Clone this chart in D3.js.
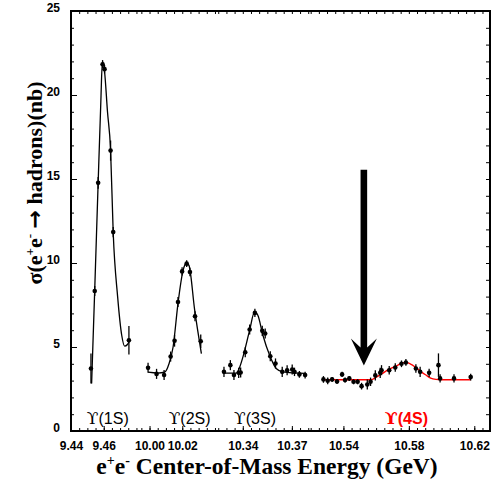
<!DOCTYPE html>
<html>
<head>
<meta charset="utf-8">
<script src="https://cdn.jsdelivr.net/npm/d3@7"></script>
<style>
  html, body { margin: 0; padding: 0; background: #fff; }
  svg { display: block; }
</style>
</head>
<body>
<svg id="chart" width="501" height="485"></svg>
<script>
// ---- Broken energy axis: four windows, one per resonance ----
const segmentDomains = [[9.44, 9.48], [9.992, 10.04], [10.323, 10.38], [10.5185, 10.6296]];
const xTickValues = [9.44, 9.46, 10.00, 10.02, 10.34, 10.37, 10.54, 10.58, 10.62];
const xTickLabels = ["9.44", "9.46", "10.00", "10.02", "10.34", "10.37", "10.54", "10.58", "10.62"];
const yTickValues = [0, 5, 10, 15, 20, 25];

// ---- Upsilon(1S) scan ----
const e1S   = [9.4522, 9.4545, 9.4566, 9.4593, 9.4605, 9.4642, 9.4658, 9.4754];
const s1S   = [3.72, 8.33, 14.77, 21.83, 21.54, 16.69, 11.84, 5.40];
const err1S = [0.9, 0.3, 0.35, 0.25, 0.25, 0.6, 0.3, 0.85];
const fitE1S = [9.4526, 9.4545, 9.4566, 9.4582, 9.4592, 9.4605, 9.4623, 9.4642, 9.4658, 9.4685, 9.4710, 9.4728, 9.4745, 9.4760];
const fitS1S = [2.83, 8.4, 14.8, 19.5, 22.0, 21.4, 19.0, 16.7, 11.8, 8.0, 5.7, 5.05, 5.15, 5.4];

// ---- Upsilon(2S) scan ----
const e2S   = [9.9991, 10.0043, 10.0089, 10.0129, 10.0153, 10.0174, 10.0199, 10.0227, 10.0247, 10.0278, 10.0313];
const s2S   = [3.76, 3.40, 3.33, 4.43, 5.37, 7.68, 9.50, 9.96, 9.46, 6.83, 5.34];
const err2S = [0.3, 0.3, 0.3, 0.3, 0.35, 0.3, 0.25, 0.2, 0.25, 0.3, 0.4];
const fitE2S = [9.9991, 10.0050, 10.0093, 10.0119, 10.0144, 10.0174, 10.0205, 10.0226, 10.0241, 10.0276, 10.0317];
const fitS2S = [3.5, 3.45, 3.5, 4.0, 5.0, 7.6, 9.56, 10.0, 9.86, 7.19, 4.61];

// ---- Upsilon(3S) scan ----
const e3S   = [10.3285, 10.3324, 10.3346, 10.3375, 10.3387, 10.3415, 10.3442, 10.3474, 10.3519, 10.3537, 10.3568, 10.3600, 10.3641, 10.3671, 10.3702, 10.3716, 10.3746, 10.3781];
const s3S   = [3.52, 3.92, 3.33, 3.46, 3.48, 4.69, 6.04, 7.03, 5.96, 5.80, 4.45, 4.02, 3.52, 3.62, 3.66, 3.52, 3.37, 3.33];
const err3S = [0.3, 0.3, 0.3, 0.3, 0.3, 0.3, 0.3, 0.25, 0.3, 0.3, 0.3, 0.3, 0.3, 0.3, 0.3, 0.25, 0.2, 0.2];
const fitE3S = [10.3285, 10.3360, 10.3381, 10.3401, 10.3442, 10.3472, 10.3492, 10.3523, 10.3564, 10.3604, 10.3645, 10.3781];
const fitS3S = [3.45, 3.45, 3.8, 4.41, 6.0, 7.09, 6.89, 5.70, 4.51, 3.72, 3.52, 3.43];

// ---- Upsilon(4S) scan ----
const e4S   = [10.5278, 10.5304, 10.5331, 10.5361, 10.5392, 10.5410, 10.5436, 10.5462, 10.5487, 10.5511, 10.5546, 10.5566, 10.5595, 10.5625, 10.5633, 10.5680, 10.5717, 10.5755, 10.5782, 10.5843, 10.5869, 10.5924, 10.5981, 10.5991, 10.6076, 10.6178];
const s4S   = [3.07, 2.99, 3.07, 2.95, 3.37, 3.03, 3.13, 2.93, 2.93, 2.67, 2.77, 2.93, 3.31, 3.46, 3.62, 3.62, 3.78, 4.00, 4.08, 3.72, 3.52, 3.46, 3.92, 3.13, 3.13, 3.21];
const err4S = [0.2, 0.2, 0.15, 0.15, 0.15, 0.15, 0.15, 0.15, 0.15, 0.2, 0.3, 0.25, 0.3, 0.3, 0.3, 0.25, 0.25, 0.2, 0.2, 0.25, 0.3, 0.25, 0.7, 0.25, 0.25, 0.2];
const fitE4S = [10.5278, 10.5568, 10.5601, 10.5639, 10.5680, 10.5721, 10.5753, 10.5782, 10.5808, 10.5843, 10.5872, 10.5904, 10.5933, 10.5965, 10.5997, 10.6178];
const fitS4S = [3.05, 3.05, 3.2, 3.43, 3.68, 3.86, 4.02, 4.08, 4.0, 3.78, 3.55, 3.33, 3.15, 3.07, 3.05, 3.05];

// ---- Labels and annotation ----
const resonanceStates = ["(1S)", "(2S)", "(3S)", "(4S)"];
const resonanceLabelE = [9.4625, 10.0245, 10.3475, 10.5785];
const arrowE = 10.5525, arrowTop = 15.55, arrowTip = 3.9;

// ---------------------------------------------------------------
const svg = d3.select("#chart");
const plot = { left: 71, right: 490, top: 11, bottom: 431 };

const y = d3.scaleLinear().domain([0, 25]).range([plot.bottom, plot.top]);

// Each window gets a width proportional to its energy span.
const spans = segmentDomains.map(d => d[1] - d[0]);
const totalSpan = d3.sum(spans);
let cursor = plot.left;
const segScales = segmentDomains.map((d, i) => {
  const w = (plot.right - plot.left) * spans[i] / totalSpan;
  const s = d3.scaleLinear().domain(d).range([cursor, cursor + w]);
  cursor += w;
  return s;
});
function x(e) {
  const s = segScales.find(sc => e >= sc.domain()[0] - 1e-9 && e <= sc.domain()[1] + 1e-9) || segScales[segScales.length - 1];
  return s(e);
}

// ---- Axes: inward ticks on all four sides ----
const axisFont = "bold 12px 'Liberation Sans', Arial, sans-serif";

function styleAxis(g) {
  g.select(".domain").remove();
  g.selectAll(".tick line").attr("stroke", "#000").attr("stroke-width", 1);
}

// Left axis with labels
const yMinor = d3.range(0, 26, 1);
svg.append("g").attr("transform", `translate(${plot.left},0)`)
  .call(d3.axisLeft(y).tickValues(yMinor).tickSize(-3).tickFormat(""))
  .call(styleAxis);
svg.append("g").attr("transform", `translate(${plot.left},0)`)
  .call(d3.axisLeft(y).tickValues(yTickValues).tickSize(-6).tickPadding(11).tickFormat(d3.format("d")))
  .call(styleAxis)
  .call(g => g.selectAll("text").style("font", axisFont).attr("fill", "#000").attr("dy", "0.05em"));
// Right axis
svg.append("g").attr("transform", `translate(${plot.right},0)`)
  .call(d3.axisRight(y).tickValues(yMinor).tickSize(-4).tickFormat(""))
  .call(styleAxis);

// Bottom and top axes per energy window
segScales.forEach((s, i) => {
  const [d0, d1] = s.domain();
  const minor = d3.range(Math.ceil(d0 / 0.005 - 1e-6) * 0.005, d1 + 1e-9, 0.005);
  const major = xTickValues.filter(v => v >= d0 - 1e-9 && v <= d1 + 1e-9);
  svg.append("g").attr("transform", `translate(0,${plot.bottom})`)
    .call(d3.axisBottom(s).tickValues(minor).tickSize(-3).tickFormat(""))
    .call(styleAxis);
  svg.append("g").attr("transform", `translate(0,${plot.bottom})`)
    .call(d3.axisBottom(s).tickValues(major).tickSize(-5).tickPadding(10)
      .tickFormat(v => xTickLabels[xTickValues.indexOf(v)]))
    .call(styleAxis)
    .call(g => g.selectAll("text").style("font", axisFont).attr("fill", "#000"));
  svg.append("g").attr("transform", `translate(0,${plot.top})`)
    .call(d3.axisTop(s).tickValues(minor).tickSize(-3).tickFormat(""))
    .call(styleAxis);
});

// Frame
svg.append("rect")
  .attr("x", plot.left).attr("y", plot.top)
  .attr("width", plot.right - plot.left).attr("height", plot.bottom - plot.top)
  .attr("fill", "none").attr("stroke", "#000").attr("stroke-width", 2);

// ---- Fits ----
const line = d3.line().x(d => x(d[0])).y(d => y(d[1])).curve(d3.curveMonotoneX);
const fits = [
  [fitE1S, fitS1S, "#000"],
  [fitE2S, fitS2S, "#000"],
  [fitE3S, fitS3S, "#000"],
  [fitE4S, fitS4S, "#ff0000"]
];
fits.forEach(([es, ss, col]) => {
  svg.append("path")
    .datum(es.map((e, i) => [e, ss[i]]))
    .attr("d", line)
    .attr("fill", "none").attr("stroke", col).attr("stroke-width", 1.3);
});

// ---- Data points with error bars ----
const scans = [[e1S, s1S, err1S], [e2S, s2S, err2S], [e3S, s3S, err3S], [e4S, s4S, err4S]];
scans.forEach(([es, ss, errs]) => {
  const pts = es.map((e, i) => ({ e, s: ss[i], err: errs[i] }));
  const g = svg.append("g");
  g.selectAll("line.err").data(pts).join("line")
    .attr("x1", d => x(d.e)).attr("x2", d => x(d.e))
    .attr("y1", d => y(d.s - d.err)).attr("y2", d => y(d.s + d.err))
    .attr("stroke", "#000").attr("stroke-width", 1.3);
  g.selectAll("circle").data(pts).join("circle")
    .attr("cx", d => x(d.e)).attr("cy", d => y(d.s))
    .attr("r", 2.3).attr("fill", "#000");
});

// ---- Resonance names: hooked upsilon symbol, state in sans ----
resonanceStates.forEach((state, i) => {
  const red = i === 3;
  const t = svg.append("text")
    .attr("x", x(resonanceLabelE[i])).attr("y", 424)
    .attr("text-anchor", "middle")
    .attr("fill", red ? "#ff0000" : "#000");
  t.append("tspan")
    .style("font", `${red ? "bold " : ""}17px 'DejaVu Serif', serif`)
    .text("\u03D2");
  t.append("tspan")
    .style("font", `${red ? "bold " : ""}16px 'Liberation Sans', Arial, sans-serif`)
    .text(state);
});

// ---- Arrow pointing to the 4S continuum below threshold ----
const ax = x(arrowE), yTop = y(arrowTop), yTip = y(arrowTip);
const headLen = 27, headHalf = 13, shaftHalf = 3.3, notch = 9;
svg.append("path")
  .attr("d", `M${ax - shaftHalf},${yTop} L${ax + shaftHalf},${yTop} L${ax + shaftHalf},${yTip - headLen + notch}
             L${ax + headHalf},${yTip - headLen} L${ax},${yTip} L${ax - headHalf},${yTip - headLen}
             L${ax - shaftHalf},${yTip - headLen + notch} Z`)
  .attr("fill", "#000");

// ---- Axis titles ----
const titleFont = "bold 23.5px 'Liberation Serif', 'Times New Roman', serif";
const xt = svg.append("text")
  .attr("x", 267).attr("y", 474)
  .attr("text-anchor", "middle").style("font", titleFont).attr("fill", "#000");
xt.append("tspan").text("e");
xt.append("tspan").attr("dy", -9).style("font-size", "14px").text("+");
xt.append("tspan").attr("dy", 9).text("e");
xt.append("tspan").attr("dy", -9).style("font-size", "14px").text("-");
xt.append("tspan").attr("dy", 9).text(" Center-of-Mass Energy (GeV)");

const yt = svg.append("text")
  .attr("transform", `translate(42,183) rotate(-90)`)
  .attr("text-anchor", "middle").style("font", "bold 22px 'Liberation Serif', 'Times New Roman', serif").attr("fill", "#000");
yt.append("tspan").text("\u03C3(e");
yt.append("tspan").attr("dy", -8).style("font-size", "13px").text("+");
yt.append("tspan").attr("dy", 8).text("e");
yt.append("tspan").attr("dy", -8).style("font-size", "13px").text("-");
yt.append("tspan").attr("dy", 8).text(" ");
yt.append("tspan").style("font", "bold 22px 'DejaVu Sans', sans-serif").text("\u2192");
yt.append("tspan").text(" hadrons)(nb)");
</script>
</body>
</html>
